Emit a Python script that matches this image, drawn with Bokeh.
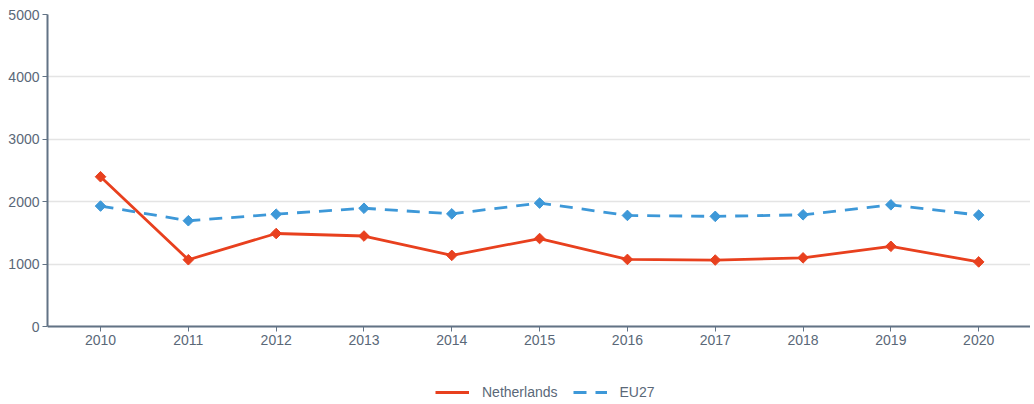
import math
from bokeh.plotting import figure
from bokeh.models import Legend, LegendItem, FixedTicker, Range1d, LinearAxis
from bokeh.embed import file_html
from bokeh.resources import INLINE

years = [2010, 2011, 2012, 2013, 2014, 2015, 2016, 2017, 2018, 2019, 2020]
netherlands = [2400, 1070, 1490, 1450, 1140, 1410, 1075, 1065, 1100, 1285, 1035]
eu27 = [1930, 1695, 1800, 1895, 1805, 1978, 1780, 1765, 1790, 1950, 1785]
y_ticks = [0, 1000, 2000, 3000, 4000, 5000]

RED = "#e8401e"
BLUE = "#3d98d8"
AXIS = "#627385"
TEXT = "#5a6878"
FONT = "Liberation Sans"

# frame extends below the y=0 baseline to host the legend; 312 px <-> 5000 units
p = figure(frame_width=983, frame_height=386, output_backend="svg", toolbar_location=None,
           x_range=Range1d(2009.396, 2020.59), y_range=Range1d(-5000 * 74 / 312, 5000),
           x_axis_location=None,
           min_border_left=47, min_border_right=0, min_border_top=14, min_border_bottom=0)
p.outline_line_color = None
p.background_fill_color = "white"
p.border_fill_color = "white"

r1 = p.line(years, netherlands, color=RED, line_width=2.8)
p.scatter(years, netherlands, marker="square", angle=math.pi / 4, size=7.5, color=RED)
r2 = p.line(years, eu27, color=BLUE, line_width=2.8, line_dash="13 9")
p.scatter(years, eu27, marker="square", angle=math.pi / 4, size=7.5, color=BLUE)

xaxis = LinearAxis(fixed_location=0, ticker=FixedTicker(ticks=years))
p.add_layout(xaxis, "below")

for ax in (xaxis, p.yaxis[0]):
    ax.axis_line_color = AXIS
    ax.axis_line_width = 2
    ax.major_tick_line_color = AXIS
    ax.major_tick_line_width = 1
    ax.major_tick_in = 0
    ax.major_tick_out = 5
    ax.minor_tick_line_color = None
    ax.major_label_text_color = TEXT
    ax.major_label_text_font = FONT
    ax.major_label_text_font_size = "14px"
    ax.major_label_standoff = 3

p.yaxis.ticker = FixedTicker(ticks=y_ticks)
p.yaxis.bounds = (0, 5000)

for g in p.grid:
    if g.dimension == 0:
        g.grid_line_color = None
        g.visible = False
    else:
        g.grid_line_color = "#e4e4e4"
        g.grid_line_width = 1.5

legend = Legend(items=[LegendItem(label="Netherlands", renderers=[r1]),
                       LegendItem(label="EU27", renderers=[r2])],
                orientation="horizontal", location=(388, 0),
                border_line_color=None, background_fill_alpha=0,
                label_text_font=FONT, label_text_font_size="14px",
                label_text_color=TEXT, glyph_width=34, glyph_height=14,
                spacing=15, label_standoff=13, margin=0, padding=2)
p.add_layout(legend, "center")

open("out.html", "w").write(file_html(p, INLINE))
